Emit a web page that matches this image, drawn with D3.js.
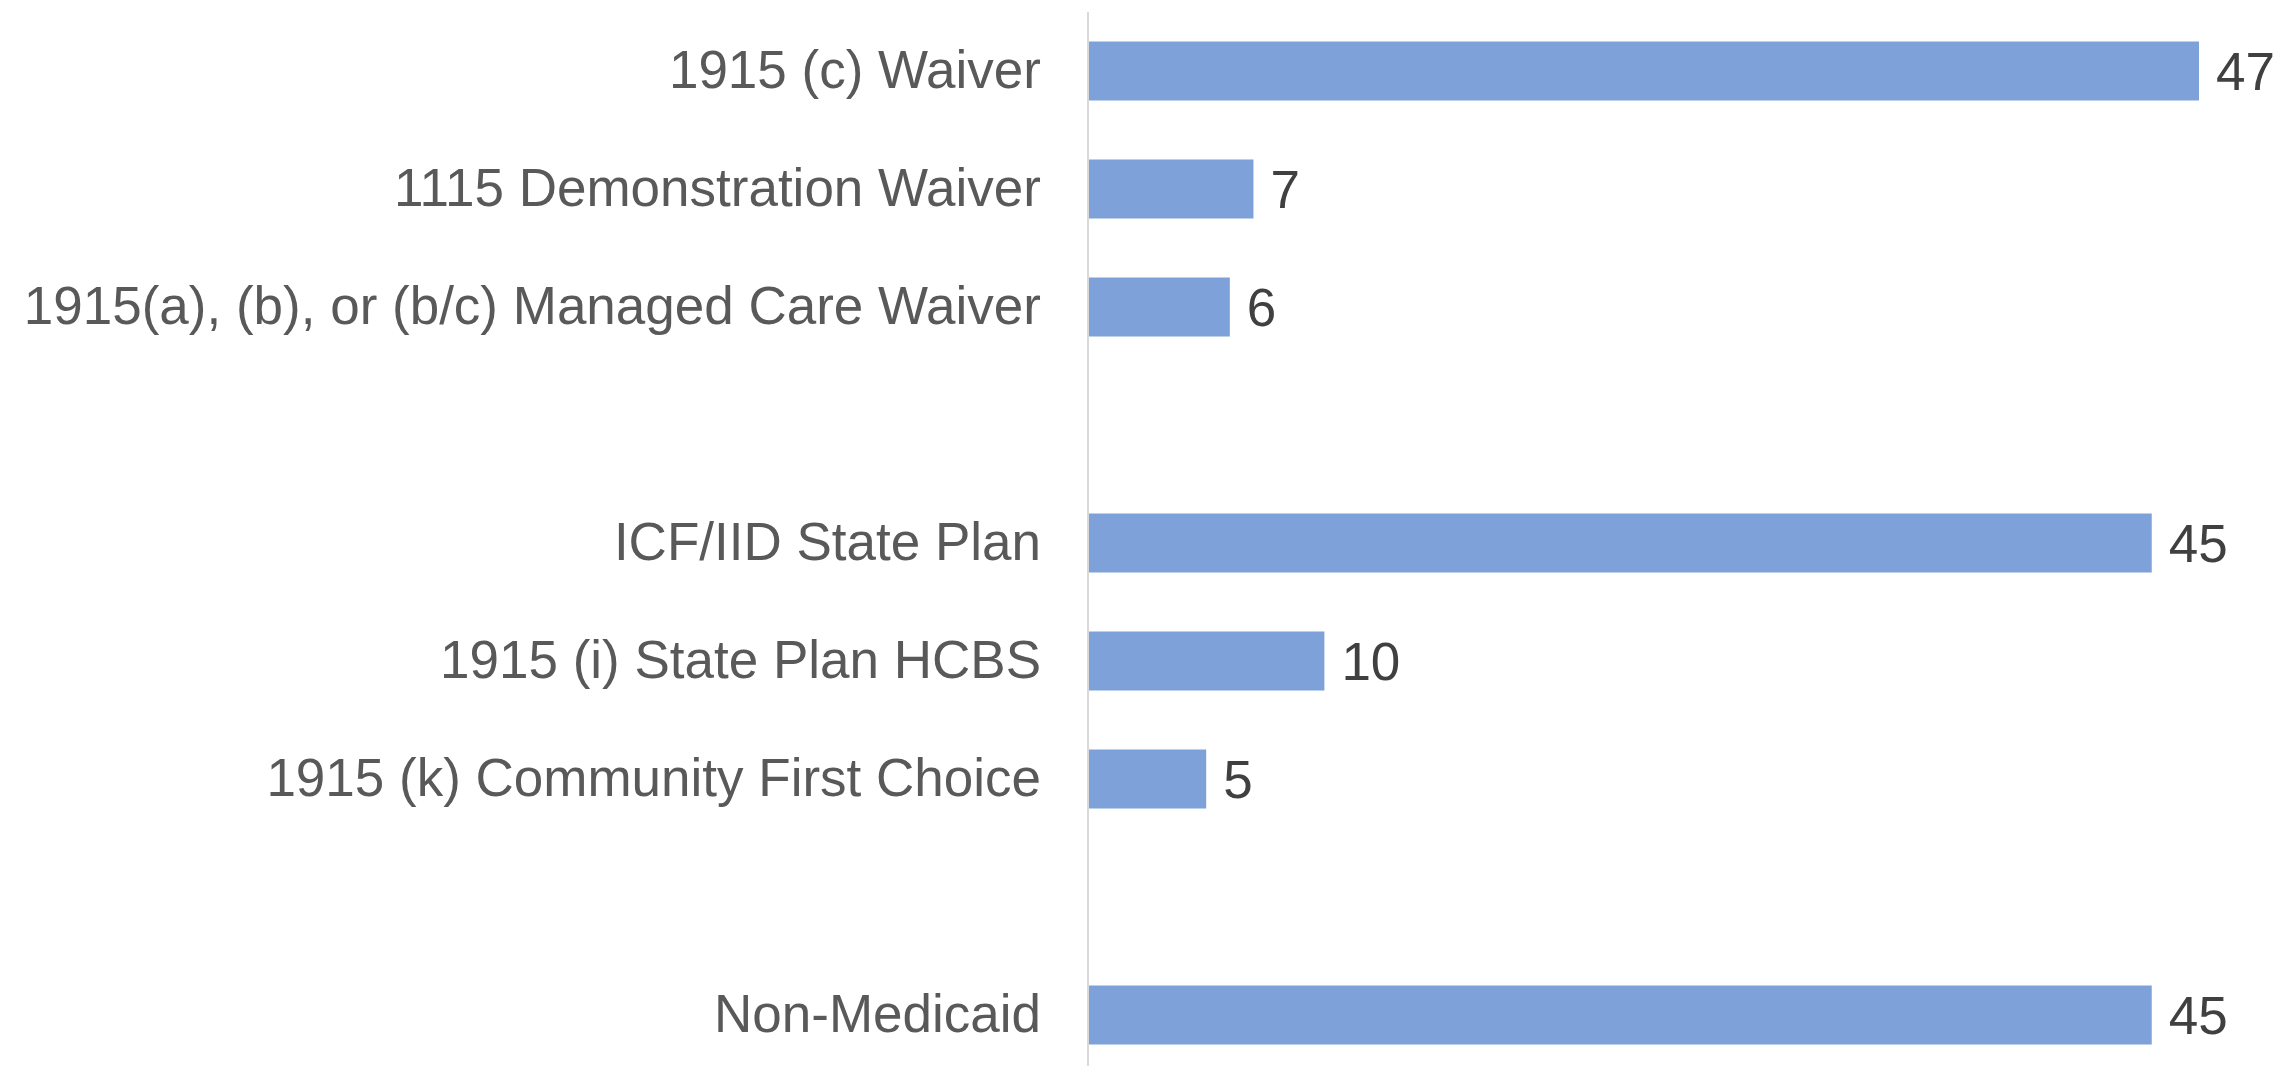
<!DOCTYPE html>
<html>
<head>
<meta charset="utf-8">
<script src="https://cdn.jsdelivr.net/npm/d3@7"></script>
<style>
  html, body { margin: 0; padding: 0; background: #ffffff; }
  svg { display: block; }
</style>
</head>
<body>
<svg id="chart" width="2291" height="1066"></svg>
<script>
// Data (null values mark the empty spacer rows between groups)
const categories = [
  "1915 (c) Waiver",
  "1115 Demonstration Waiver",
  "1915(a), (b), or (b/c) Managed Care Waiver",
  "",
  "ICF/IID State Plan",
  "1915 (i) State Plan HCBS",
  "1915 (k) Community First Choice",
  "",
  "Non-Medicaid"
];
const values = [47, 7, 6, null, 45, 10, 5, null, 45];

const rows = categories.map((c, i) => ({ key: "r" + i, label: c, value: values[i] }));

const W = 2291, H = 1066;
const axisX = 1088;
const svg = d3.select("#chart");

const x = d3.scaleLinear().domain([0, 47]).range([axisX, 2199]);
const y = d3.scaleBand()
  .domain(rows.map(d => d.key))
  .range([12, 1074])
  .paddingInner(0.5)
  .paddingOuter(0.25);

const font = "Liberation Sans, Arial, Helvetica, sans-serif";

// bars
svg.append("g")
  .selectAll("rect")
  .data(rows.filter(d => d.value != null))
  .join("rect")
  .attr("x", x(0))
  .attr("y", d => y(d.key))
  .attr("width", d => x(d.value) - x(0))
  .attr("height", y.bandwidth())
  .attr("fill", "#7da1d8");

// category axis
const yAxis = d3.axisLeft(y)
  .tickSize(0)
  .tickPadding(47)
  .tickFormat(k => rows.find(r => r.key === k).label);

const gAxis = svg.append("g")
  .attr("transform", `translate(${axisX},0)`)
  .call(yAxis);
gAxis.select(".domain").remove();
gAxis.selectAll("text")
  .attr("font-family", font)
  .attr("font-size", 53)
  .attr("fill", "#595959");

// vertical axis line
svg.append("line")
  .attr("x1", axisX).attr("x2", axisX)
  .attr("y1", 12).attr("y2", H)
  .attr("stroke", "#d9d9d9")
  .attr("stroke-width", 2);

// value labels
svg.append("g")
  .selectAll("text")
  .data(rows.filter(d => d.value != null))
  .join("text")
  .attr("x", d => x(d.value) + 17)
  .attr("y", d => y(d.key) + y.bandwidth() / 2)
  .attr("dy", "0.35em")
  .attr("font-family", font)
  .attr("font-size", 53)
  .attr("fill", "#404040")
  .text(d => d.value);
</script>
</body>
</html>
